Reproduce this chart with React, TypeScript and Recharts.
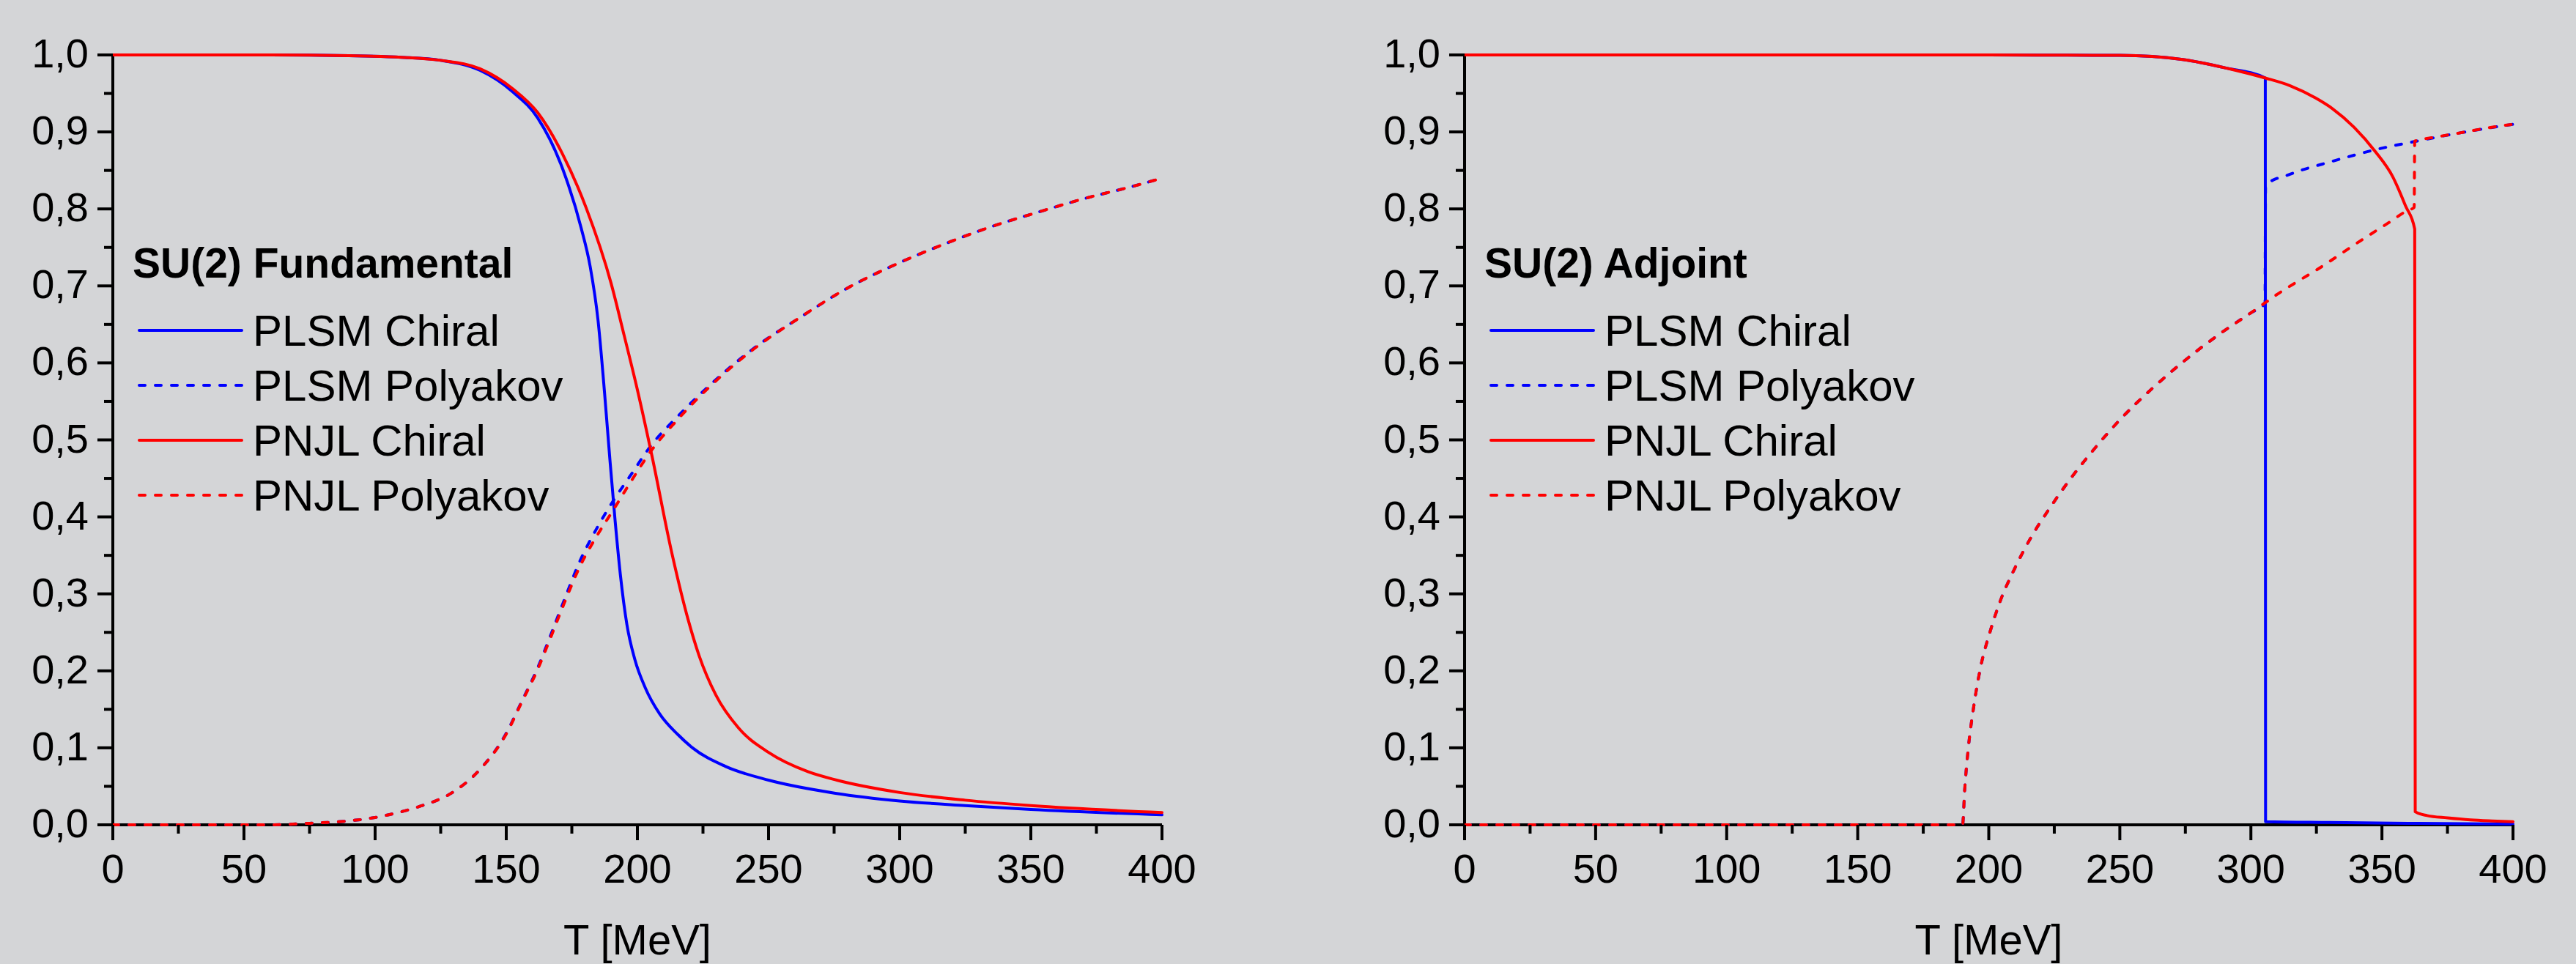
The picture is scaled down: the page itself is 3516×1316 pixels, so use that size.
import React from 'react'
import { LineChart, Line, XAxis, YAxis } from 'recharts'

const BLUE = '#0000ff'
const RED = '#ff0000'
const BG = '#d4d5d7'
const FONT = '"Liberation Sans", Arial, Helvetica, sans-serif'
const DASH = '8 14'

const xTicks = [0, 25, 50, 75, 100, 125, 150, 175, 200, 225, 250, 275, 300, 325, 350, 375, 400]
const yTicks = [0, 0.05, 0.1, 0.15, 0.2, 0.25, 0.3, 0.35, 0.4, 0.45, 0.5, 0.55, 0.6, 0.65, 0.7, 0.75, 0.8, 0.85, 0.9, 0.95, 1]

// SU(2) fundamental
const fundPlsmChiralT = [0, 60, 90, 110, 125, 140, 152.5, 162, 171.5, 178.5, 182, 185, 187.5, 189.5, 191.5, 193.5, 196, 199, 203, 208.5, 215.5, 221, 233.5, 250, 275.5, 300, 325, 350, 400]
const fundPlsmChiralV = [1, 1, 0.999, 0.997, 0.993, 0.98, 0.952, 0.918, 0.852, 0.776, 0.725, 0.655, 0.56, 0.475, 0.395, 0.325, 0.26, 0.215, 0.178, 0.144, 0.117, 0.1, 0.076, 0.058, 0.041, 0.031, 0.025, 0.02, 0.013]

const fundPnjlChiralT = [0, 60, 90, 110, 125, 140, 152.5, 162, 171.5, 180.5, 190, 195, 200, 205.5, 213, 219.3, 223.5, 230, 238.5, 250, 265, 276, 300, 325, 350, 400]
const fundPnjlChiralV = [1, 1, 0.999, 0.997, 0.993, 0.982, 0.956, 0.925, 0.871, 0.801, 0.703, 0.635, 0.565, 0.48, 0.355, 0.267, 0.22, 0.168, 0.126, 0.094, 0.069, 0.058, 0.042, 0.032, 0.025, 0.016]

const fundPolyakovT = [0, 60, 75, 86, 99, 110, 118, 129, 140, 150, 156, 162, 167, 172, 178, 184.5, 191, 197, 205.5, 215.5, 226, 244, 262, 280, 298.5, 316, 335, 352, 371, 388.5, 400]
const fundPlsmPolyakovV = [0, 0, 0.002, 0.004, 0.009, 0.017, 0.025, 0.041, 0.072, 0.119, 0.161, 0.204, 0.247, 0.291, 0.342, 0.385, 0.422, 0.452, 0.494, 0.531, 0.566, 0.618, 0.659, 0.697, 0.728, 0.753, 0.777, 0.795, 0.814, 0.829, 0.84]
const fundPnjlPolyakovV = [0, 0, 0.002, 0.004, 0.009, 0.017, 0.025, 0.041, 0.072, 0.118, 0.16, 0.202, 0.244, 0.287, 0.335, 0.375, 0.41, 0.443, 0.487, 0.527, 0.564, 0.617, 0.659, 0.697, 0.728, 0.753, 0.777, 0.795, 0.814, 0.829, 0.84]

// SU(2) adjoint
const adjPlsmChiralT = [0, 150, 200, 230, 250, 274, 290.5, 305.5, 305.6, 330, 360, 400]
const adjPlsmChiralV = [1, 1, 1, 0.9997, 0.9995, 0.994, 0.983, 0.97, 0.004, 0.003, 0.002, 0.001]

const adjPnjlChiralT = [0, 150, 200, 230, 250, 274, 290.5, 305.5, 315, 324.7, 331.2, 339.4, 347.6, 354.1, 359, 362.5, 362.7, 367.2, 375, 383.7, 392, 400]
const adjPnjlChiralV = [1, 1, 1, 0.9997, 0.9995, 0.994, 0.983, 0.97, 0.96, 0.944, 0.93, 0.906, 0.874, 0.842, 0.804, 0.774, 0.017, 0.012, 0.009, 0.0064, 0.005, 0.004]

const adjPlsmPolyakovT = [0, 100, 150, 190, 190.8, 192.2, 194.1, 196.9, 200.6, 204.3, 209.9, 216.4, 223, 230.4, 239.7, 250, 262.1, 275.1, 289.1, 300, 305.4, 305.6, 314.9, 331.2, 347.6, 363.1, 380.2, 400]
const adjPlsmPolyakovV = [0, 0, 0, 0, 0.045, 0.1, 0.15, 0.205, 0.252, 0.29, 0.333, 0.375, 0.41, 0.446, 0.486, 0.526, 0.566, 0.604, 0.64, 0.665, 0.677, 0.831, 0.845, 0.862, 0.877, 0.888, 0.899, 0.91]

const adjPnjlPolyakovT = [0, 100, 150, 190, 190.8, 192.2, 194.1, 196.9, 200.6, 204.3, 209.9, 216.4, 223, 230.4, 239.7, 250, 262.1, 275.1, 289.1, 300, 305, 310, 318.9, 324.7, 341.1, 352.5, 359.8, 362.3, 362.5, 370, 380.2, 390, 400]
const adjPnjlPolyakovV = [0, 0, 0, 0, 0.045, 0.1, 0.15, 0.205, 0.252, 0.29, 0.333, 0.375, 0.41, 0.446, 0.486, 0.526, 0.566, 0.604, 0.64, 0.665, 0.677, 0.689, 0.708, 0.72, 0.757, 0.782, 0.798, 0.802, 0.888, 0.893, 0.899, 0.905, 0.91]

const legendNames = ['PLSM Chiral', 'PLSM Polyakov', 'PNJL Chiral', 'PNJL Polyakov']
const legendColors = [BLUE, BLUE, RED, RED]
const legendDashed = [false, true, false, true]

const zip = (t: number[], v: number[]) => t.map((x, i) => ({ t: x, v: v[i] }))

function XTick(props: any) {
  const { x, y, payload } = props
  const major = payload.value % 50 === 0
  return (
    <g>
      <line x1={x} y1={y} x2={x} y2={y + (major ? 21 : 12)} stroke="#000" strokeWidth={4} />
      {major && (
        <text x={x} y={y + 79} textAnchor="middle" fontSize={56} fontFamily={FONT} fill="#000">
          {payload.value}
        </text>
      )}
    </g>
  )
}

function YTick(props: any) {
  const { x, y, payload } = props
  const major = Math.round(payload.value * 100) % 10 === 0
  return (
    <g>
      <line x1={x - (major ? 21 : 12)} y1={y} x2={x} y2={y} stroke="#000" strokeWidth={4} />
      {major && (
        <text x={x - 33} y={y + 17} textAnchor="end" fontSize={56} fontFamily={FONT} fill="#000">
          {payload.value.toFixed(1).replace('.', ',')}
        </text>
      )}
    </g>
  )
}

function AxisTitle(p: any) {
  const vb = p.viewBox
  return (
    <text x={vb.x + vb.width / 2} y={vb.y + 177} textAnchor="middle" fontSize={58} fontFamily={FONT} fill="#000">
      T [MeV]
    </text>
  )
}

function Panel({ left, marginLeft, marginRight, series }: any) {
  return (
    <div style={{ position: 'absolute', left, top: 0 }}>
      <LineChart width={1758} height={1316} margin={{ top: 75, right: marginRight, bottom: 0, left: marginLeft }}>
        <XAxis
          type="number"
          dataKey="t"
          domain={[0, 400]}
          ticks={xTicks}
          interval={0}
          height={190}
          tickSize={0}
          tickMargin={0}
          tickLine={false}
          axisLine={{ stroke: '#000', strokeWidth: 4 }}
          tick={<XTick />}
          label={{ content: AxisTitle }}
          zIndex={300}
        />
        <YAxis
          type="number"
          domain={[0, 1]}
          ticks={yTicks}
          interval={0}
          width={154}
          tickSize={0}
          tickMargin={0}
          tickLine={false}
          axisLine={{ stroke: '#000', strokeWidth: 4 }}
          tick={<YTick />}
          zIndex={300}
        />
        {series.map((s: any) => (
          <Line
            key={s.name}
            name={s.name}
            data={s.data}
            dataKey="v"
            type="monotone"
            stroke={s.color}
            strokeWidth={4}
            strokeDasharray={s.dashed ? DASH : undefined}
            strokeLinecap="round"
            strokeLinejoin="round"
            dot={false}
            activeDot={false}
            isAnimationActive={false}
            zIndex={700}
          />
        ))}
      </LineChart>
    </div>
  )
}

function LegendBox({ left, title }: { left: number; title: string }) {
  return (
    <svg style={{ position: 'absolute', left, top: 0, overflow: 'visible' }} width={700} height={760}>
      <text x={27} y={379} fontWeight="bold" fontSize={57} fontFamily={FONT} fill="#000">
        {title}
      </text>
      {legendNames.map((name, i) => (
        <g key={name}>
          <line
            x1={36}
            x2={176}
            y1={451 + 75 * i}
            y2={451 + 75 * i}
            stroke={legendColors[i]}
            strokeWidth={4}
            strokeDasharray={legendDashed[i] ? DASH : undefined}
            strokeLinecap="round"
          />
          <text x={191} y={472 + 75 * i} fontSize={60} fontFamily={FONT} fill="#000">
            {name}
          </text>
        </g>
      ))}
    </svg>
  )
}

export default function App() {
  const fundSeries = [
    { name: 'PLSM Chiral', color: BLUE, dashed: false, data: zip(fundPlsmChiralT, fundPlsmChiralV) },
    { name: 'PLSM Polyakov', color: BLUE, dashed: true, data: zip(fundPolyakovT, fundPlsmPolyakovV) },
    { name: 'PNJL Chiral', color: RED, dashed: false, data: zip(fundPnjlChiralT, fundPnjlChiralV) },
    { name: 'PNJL Polyakov', color: RED, dashed: true, data: zip(fundPolyakovT, fundPnjlPolyakovV) },
  ]
  const adjSeries = [
    { name: 'PLSM Chiral', color: BLUE, dashed: false, data: zip(adjPlsmChiralT, adjPlsmChiralV) },
    { name: 'PLSM Polyakov', color: BLUE, dashed: true, data: zip(adjPlsmPolyakovT, adjPlsmPolyakovV) },
    { name: 'PNJL Chiral', color: RED, dashed: false, data: zip(adjPnjlChiralT, adjPnjlChiralV) },
    { name: 'PNJL Polyakov', color: RED, dashed: true, data: zip(adjPnjlPolyakovT, adjPnjlPolyakovV) },
  ]

  return (
    <div style={{ position: 'absolute', left: 0, top: 0, width: 3516, height: 1316, background: BG, overflow: 'hidden' }}>
      <Panel left={0} marginLeft={0} marginRight={172} series={fundSeries} />
      <Panel left={1758} marginLeft={87} marginRight={86} series={adjSeries} />
      <LegendBox left={154} title="SU(2) Fundamental" />
      <LegendBox left={1999} title="SU(2) Adjoint" />
    </div>
  )
}
